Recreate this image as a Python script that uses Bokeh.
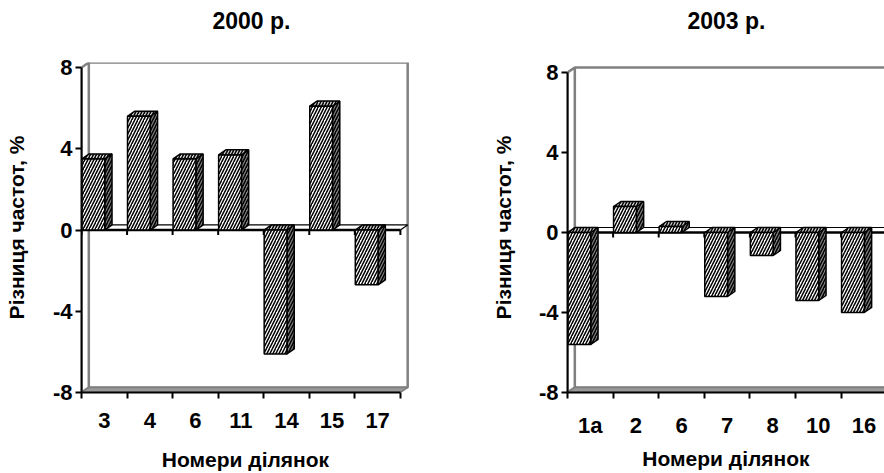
from bokeh.plotting import figure
from bokeh.layouts import row
from bokeh.models import FixedTicker, Range1d
from bokeh.embed import file_html
from bokeh.resources import INLINE

# ---- data ----
cats_2000 = ["3", "4", "6", "11", "14", "15", "17"]
vals_2000 = [3.5, 5.6, 3.5, 3.7, -6.1, 6.1, -2.7]
cats_2003 = ["1a", "2", "6", "7", "8", "10", "16"]
vals_2003 = [-5.6, 1.3, 0.3, -3.2, -1.15, -3.4, -4.0]
y_ticks = [-8, -4, 0, 4, 8]
title_2000 = "2000 р."
title_2003 = "2003 р."
x_label = "Номери ділянок"
y_label = "Різниця частот, %"

FONT = "Liberation Sans"
DX = 0.16   # 3D depth, category units
DY = 0.25   # 3D depth, value units
BW = 0.5    # bar front width
OFF = 0.01  # bar offset inside category
GRAY = "#808080"


def make_panel(cats, vals, title, width, bl, br, x_end, y_end, ylab_standoff,
               xlab_standoff, title_offset):
    n = len(cats)
    ymin, ymax = y_ticks[0], y_ticks[-1]
    p = figure(width=width, height=473,
               x_range=Range1d(0, x_end), y_range=Range1d(ymin, y_end),
               output_backend="svg", toolbar_location=None,
               min_border_left=bl, min_border_right=br,
               min_border_top=62, min_border_bottom=80)
    p.outline_line_color = None
    p.xgrid.visible = False
    p.ygrid.visible = False
    p.background_fill_color = "white"
    p.border_fill_color = "white"

    p.title.text = title
    p.title.align = "left"
    p.title.text_font = FONT
    p.title.text_font_size = "23px"
    p.title.text_font_style = "bold"
    p.title.text_color = "black"
    p.title.offset = title_offset
    p.title.standoff = 10
    p.title.padding = dict(left=0, right=0, top=0, bottom=24)

    # walls and floor
    p.patch([DX, n + DX, n + DX, DX], [ymin + DY, ymin + DY, ymax + DY, ymax + DY],
            fill_color="white", line_color=GRAY, line_width=2.5)
    p.patch([0, DX, DX, 0], [ymin, ymin + DY, ymax + DY, ymax],
            fill_color="white", line_color=GRAY, line_width=2.5)
    p.patch([0, n, n + DX, DX], [ymin, ymin, ymin + DY, ymin + DY],
            fill_color="#999999", line_color=GRAY, line_width=1.5)

    # zero plane
    p.patch([0, n, n + DX, DX], [0, 0, DY, DY], fill_color="white",
            line_color="black", line_width=1.2)
    p.segment(x0=[0], y0=[0], x1=[n], y1=[0], line_color="black", line_width=2.5)
    bnd = list(range(n + 1))
    p.segment(x0=bnd, y0=[0] * len(bnd), x1=bnd, y1=[-DY] * len(bnd),
              line_color="black", line_width=2)

    # bars
    lefts = [i + OFF for i in range(n)]
    rights = [l + BW for l in lefts]
    side_xs = [[r, r + DX, r + DX, r] for r in rights]
    side_ys = [[0, DY, v + DY, v] for v in vals]
    top_xs = [[l, r, r + DX, l + DX] for l, r in zip(lefts, rights)]
    top_ys = [[max(v, 0), max(v, 0), max(v, 0) + DY, max(v, 0) + DY] for v in vals]
    hatch = dict(hatch_pattern="/", hatch_color="black", hatch_scale=6, hatch_weight=1.5)
    p.patches(side_xs, side_ys, fill_color="#808080", line_color="black",
              line_width=1.5, **hatch)
    p.patches(top_xs, top_ys, fill_color="#d0d0d0", line_color="black",
              line_width=1.5, **hatch)
    p.quad(left=lefts, right=rights,
           bottom=[min(v, 0) for v in vals], top=[max(v, 0) for v in vals],
           fill_color="white", line_color="black", line_width=1.5, **hatch)

    # x axis
    xa = p.xaxis[0]
    centers = [i + 0.5 for i in range(n)]
    xa.ticker = FixedTicker(ticks=centers, minor_ticks=bnd)
    xa.major_label_overrides = {c: lab for c, lab in zip(centers, cats)}
    xa.bounds = (0, n)
    xa.axis_line_color = "black"
    xa.axis_line_width = 2
    xa.major_tick_line_color = None
    xa.major_tick_out = 6
    xa.major_tick_in = 0
    xa.minor_tick_line_color = "black"
    xa.minor_tick_line_width = 2
    xa.minor_tick_out = 6
    xa.minor_tick_in = 0
    xa.major_label_standoff = 14
    xa.major_label_text_font = FONT
    xa.major_label_text_font_size = "22px"
    xa.major_label_text_font_style = "bold"
    xa.major_label_text_color = "black"
    xa.axis_label = x_label
    xa.axis_label_text_font = FONT
    xa.axis_label_text_font_size = "21px"
    xa.axis_label_text_font_style = "bold"
    xa.axis_label_text_color = "black"
    xa.axis_label_standoff = xlab_standoff

    # y axis
    ya = p.yaxis[0]
    ya.ticker = FixedTicker(ticks=y_ticks, minor_ticks=[])
    ya.major_label_overrides = {t: str(t) for t in y_ticks}
    ya.bounds = (ymin, ymax)
    ya.axis_line_color = "black"
    ya.axis_line_width = 2
    ya.major_tick_line_color = "black"
    ya.major_tick_line_width = 2
    ya.major_tick_out = 6
    ya.major_tick_in = 0
    ya.minor_tick_line_color = None
    ya.major_label_standoff = 3
    ya.major_label_text_font = FONT
    ya.major_label_text_font_size = "22px"
    ya.major_label_text_font_style = "bold"
    ya.major_label_text_color = "black"
    ya.axis_label = y_label
    ya.axis_label_text_font = FONT
    ya.axis_label_text_font_size = "21px"
    ya.axis_label_text_font_style = "bold"
    ya.axis_label_text_color = "black"
    ya.axis_label_standoff = ylab_standoff
    return p


p1 = make_panel(cats_2000, vals_2000, title_2000, width=440, bl=81, br=31,
                x_end=7.2, y_end=8.25, ylab_standoff=22, xlab_standoff=17,
                title_offset=131)
p2 = make_panel(cats_2003, vals_2003, title_2003, width=444, bl=127, br=0,
                x_end=317 / 45.6, y_end=8.5, ylab_standoff=21, xlab_standoff=6,
                title_offset=120)

layout = row(p1, p2)
open("out.html", "w").write(file_html(layout, INLINE))
